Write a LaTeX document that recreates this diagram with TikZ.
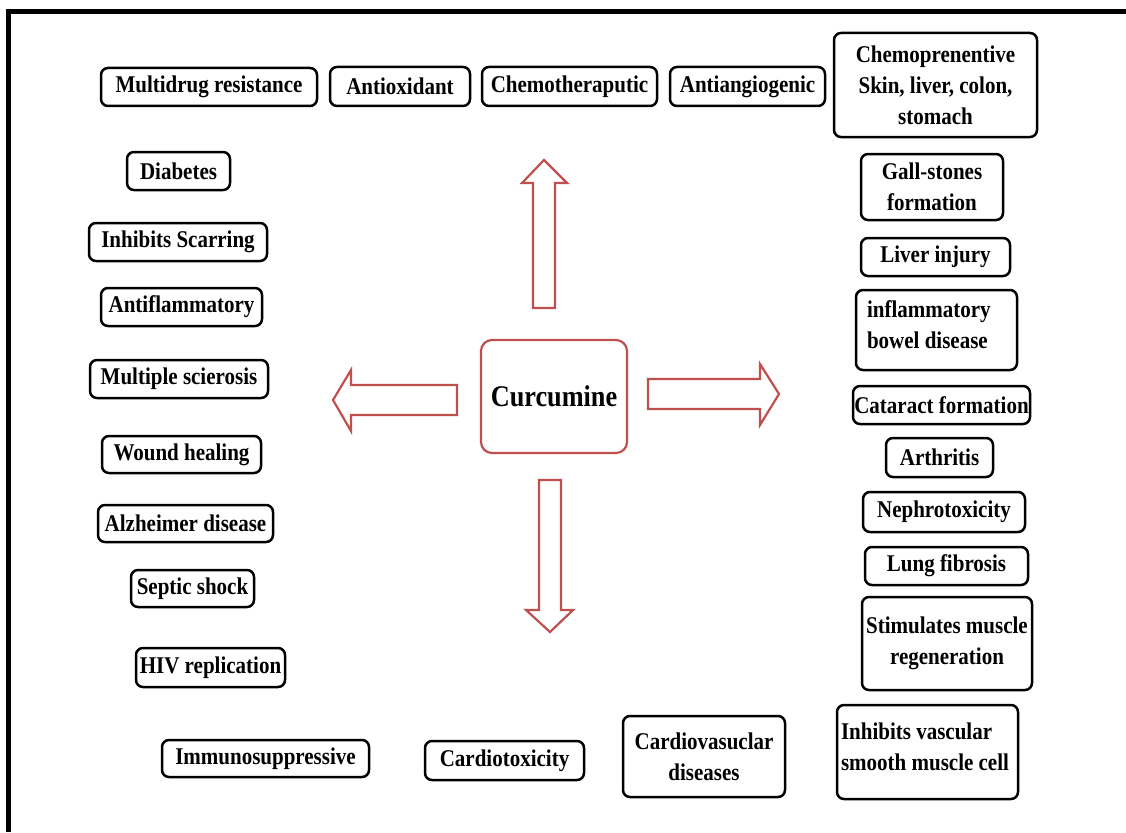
\documentclass[tikz,border=0pt]{standalone}
\usepackage{fontspec}
\setmainfont{Liberation Serif}[FakeStretch=0.875]
\definecolor{curred}{RGB}{192,80,77}

\begin{document}
\begin{tikzpicture}[x=1pt,y=-1pt,
  item/.style={draw, line width=2.5pt, rounded corners=7pt, fill=white, inner sep=0pt,
    align=center, font=\bfseries\fontsize{24}{31}\selectfont},
  leftitem/.style={item, align=flush left, text depth=42pt},
  blockarrow/.style={draw=curred, line width=2.2pt, fill=white, line join=miter}]
\useasboundingbox (0,0) rectangle (1126,832);
\draw [line width=5pt] (8.5,832) -- (8.5,11.5) -- (1126,11.5);

% centre
\node [draw=curred, line width=2.2pt, rounded corners=11pt, minimum width=146, minimum height=113,
  inner sep=0pt, font=\bfseries\fontsize{30}{34}\selectfont] (curc) at (554,396.5) {Curcumine};

% arrows
\draw [blockarrow] (544,160) -- (567,183) -- (555,183) -- (555,308) -- (533,308) -- (533,183) -- (522,183) -- cycle;
\draw [blockarrow] (550,632) -- (573,610) -- (561,610) -- (561,480) -- (539,480) -- (539,610) -- (526,610) -- cycle;
\draw [blockarrow] (333,400) -- (351,370) -- (351,385) -- (457,385) -- (457,415) -- (351,415) -- (351,431) -- cycle;
\draw [blockarrow] (779,394) -- (760,364) -- (760,379) -- (648,379) -- (648,409) -- (760,409) -- (760,425) -- cycle;

% top row
\node [item, minimum width=216, minimum height=38] (multidrug) at (209,87) {Multidrug resistance};
\node [item, minimum width=140, minimum height=39] (antiox) at (400,86.5) {Antioxidant};
\node [item, minimum width=175, minimum height=39] (chemo) at (569.5,86.5) {Chemotheraputic};
\node [item, minimum width=155, minimum height=39] (angio) at (747.5,86.5) {Antiangiogenic};
\node [item, minimum width=203, minimum height=104] (chemoprev) at (935.5,85) {Chemoprenentive\\Skin, liver, colon,\\stomach};

% left column
\node [item, minimum width=103, minimum height=38] (diabetes) at (178.5,171) {Diabetes};
\node [item, minimum width=178, minimum height=38] (scarring) at (178,242) {Inhibits Scarring};
\node [item, minimum width=161, minimum height=38] (antiflam) at (181.5,307) {Antiflammatory};
\node [item, minimum width=178, minimum height=38] (sclerosis) at (179,379) {Multiple scierosis};
\node [item, minimum width=159, minimum height=37] (wound) at (181.5,454.5) {Wound healing};
\node [item, minimum width=175, minimum height=37] (alzheimer) at (185.5,523.5) {Alzheimer disease};
\node [item, minimum width=123, minimum height=37] (septic) at (192.5,588.5) {Septic shock};
\node [item, minimum width=149, minimum height=39] (hiv) at (210.5,667.5) {HIV replication};

% bottom row
\node [item, minimum width=207, minimum height=37] (immuno) at (265.5,758.5) {Immunosuppressive};
\node [item, minimum width=159, minimum height=39] (cardiotox) at (504.5,760.5) {Cardiotoxicity};
\node [item, minimum width=162, minimum height=81] (cardiovasc) at (704,756.5) {Cardiovasuclar\\diseases};
\node [leftitem, minimum width=181, minimum height=94, text width=173] (vascular) at (927.5,752) {Inhibits vascular\\smooth muscle cell};

% right column
\node [item, minimum width=142, minimum height=66] (gall) at (932,187) {Gall-stones\\formation};
\node [item, minimum width=149, minimum height=38] (liver) at (935.5,257) {Liver injury};
\node [leftitem, minimum width=161, minimum height=80, text width=139] (bowel) at (936.5,330) {inflammatory\\bowel disease};
\node [item, minimum width=177, minimum height=38] (cataract) at (941.5,405) {Cataract formation};
\node [item, minimum width=107, minimum height=39] (arthritis) at (939.5,457.5) {Arthritis};
\node [item, minimum width=162, minimum height=40] (nephro) at (944,512) {Nephrotoxicity};
\node [item, minimum width=163, minimum height=38] (lung) at (946.5,566) {Lung fibrosis};
\node [item, minimum width=170, minimum height=93] (muscle) at (947,643.5) {Stimulates muscle\\regeneration};
\end{tikzpicture}
\end{document}
